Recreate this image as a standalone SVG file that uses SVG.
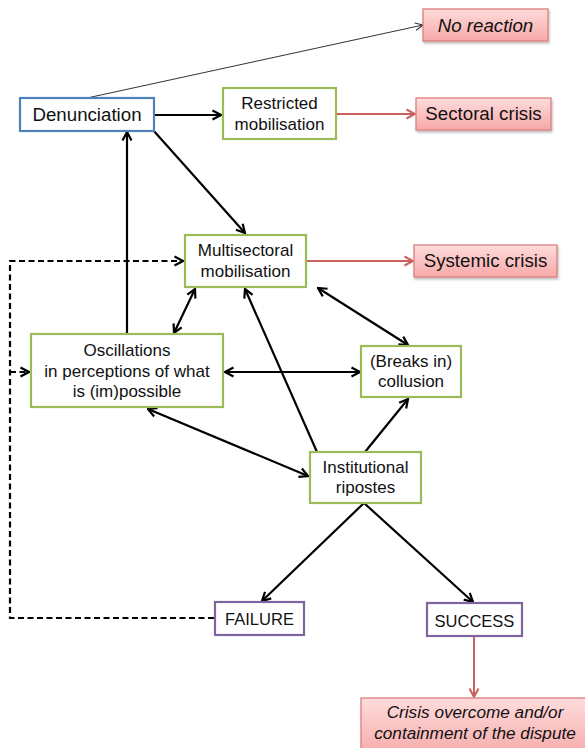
<svg xmlns="http://www.w3.org/2000/svg" width="585" height="748" viewBox="0 0 585 748">
  <style>
    .lbl { font-family: "Liberation Sans", Arial, sans-serif; fill: #111; text-anchor: middle; }
    .big { font-size: 18.7px; }
    .med { font-size: 17px; }
    .it { font-style: italic; }
    .box { fill: #ffffff; stroke-width: 2.2; }
    .green { stroke: #9bbb59; }
    .blue { stroke: #4f81bd; }
    .purple { stroke: #8064a2; }
    .pink { fill: url(#pinkGrad); stroke: #d9807e; stroke-width: 1.3; filter: url(#shadow); }
    .arr { fill: none; stroke: #000; stroke-width: 2.2; }
    .red { fill: none; stroke: #c9605c; stroke-width: 2; }
    .thin { fill: none; stroke: #333; stroke-width: 1; }
    .dash { fill: none; stroke: #000; stroke-width: 2.2; stroke-dasharray: 6 3.5; }
  </style>
  <defs>
    <linearGradient id="pinkGrad" x1="0" y1="0" x2="0" y2="1">
      <stop offset="0" stop-color="#ffdcdc"/>
      <stop offset="1" stop-color="#f6a8a8"/>
    </linearGradient>
    <filter id="shadow" x="-10%" y="-20%" width="130%" height="160%">
      <feDropShadow dx="1" dy="2" stdDeviation="1.2" flood-color="#000" flood-opacity="0.25"/>
    </filter>
    <marker id="ah" viewBox="0 0 12 12" refX="10.5" refY="6" markerWidth="12" markerHeight="12" markerUnits="userSpaceOnUse" orient="auto-start-reverse">
      <path d="M2,1.5 L10.5,6 L2,10.5" fill="none" stroke="#000" stroke-width="2.2"/>
    </marker>
    <marker id="ahr" viewBox="0 0 12 12" refX="10.5" refY="6" markerWidth="12" markerHeight="12" markerUnits="userSpaceOnUse" orient="auto">
      <path d="M2,1.5 L10.5,6 L2,10.5" fill="none" stroke="#c9605c" stroke-width="2"/>
    </marker>
    <marker id="aht" viewBox="0 0 12 12" refX="10.5" refY="6" markerWidth="11" markerHeight="11" markerUnits="userSpaceOnUse" orient="auto">
      <path d="M2,2 L10.5,6 L2,10" fill="none" stroke="#333" stroke-width="1.2"/>
    </marker>
  </defs>

  <g id="connectors">
    <line class="thin" x1="87" y1="98" x2="423" y2="25" marker-end="url(#aht)"/>
    <line class="arr" x1="154" y1="115" x2="221" y2="115" marker-end="url(#ah)"/>
    <line class="red" x1="337" y1="114" x2="415" y2="114" marker-end="url(#ahr)"/>
    <line class="arr" x1="153" y1="130" x2="245" y2="233" marker-end="url(#ah)"/>
    <line class="arr" x1="127" y1="334" x2="127" y2="132" marker-end="url(#ah)"/>
    <line class="red" x1="306" y1="261" x2="413" y2="261" marker-end="url(#ahr)"/>
    <line class="arr" x1="195" y1="289" x2="174" y2="333" marker-start="url(#ah)" marker-end="url(#ah)"/>
    <line class="arr" x1="318" y1="288" x2="408" y2="345" marker-start="url(#ah)" marker-end="url(#ah)"/>
    <line class="arr" x1="225" y1="372" x2="360" y2="372" marker-start="url(#ah)" marker-end="url(#ah)"/>
    <line class="arr" x1="317" y1="452" x2="245" y2="289" marker-end="url(#ah)"/>
    <line class="arr" x1="148" y1="409" x2="308" y2="476" marker-start="url(#ah)" marker-end="url(#ah)"/>
    <line class="arr" x1="365" y1="452" x2="408" y2="399" marker-end="url(#ah)"/>
    <line class="arr" x1="364" y1="503" x2="262" y2="601" marker-end="url(#ah)"/>
    <line class="arr" x1="364" y1="503" x2="473" y2="602" marker-end="url(#ah)"/>
    <line class="red" x1="474" y1="637" x2="474" y2="697" marker-end="url(#ahr)"/>
    <polyline class="dash" points="214,618 10,618 10,261 183,261" marker-end="url(#ah)"/>
    <line class="dash" x1="10" y1="372" x2="29" y2="372" marker-end="url(#ah)"/>
  </g>

  <g id="no-reaction">
    <rect class="pink" x="423" y="9" width="125" height="32"/>
    <text class="lbl big it" x="485.5" y="32">No reaction</text>
  </g>
  <g id="denunciation">
    <rect class="box blue" x="20" y="98" width="134" height="33"/>
    <text class="lbl big" x="87" y="121">Denunciation</text>
  </g>
  <g id="restricted-mobilisation">
    <rect class="box green" x="223" y="88" width="113" height="51"/>
    <text class="lbl med" x="279.5" y="109">Restricted</text>
    <text class="lbl med" x="279.5" y="130">mobilisation</text>
  </g>
  <g id="sectoral-crisis">
    <rect class="pink" x="416" y="98" width="135" height="32"/>
    <text class="lbl big" x="483.5" y="120">Sectoral crisis</text>
  </g>
  <g id="multisectoral-mobilisation">
    <rect class="box green" x="185" y="235" width="121" height="52"/>
    <text class="lbl med" x="245.5" y="256">Multisectoral</text>
    <text class="lbl med" x="245.5" y="277">mobilisation</text>
  </g>
  <g id="systemic-crisis">
    <rect class="pink" x="414" y="245" width="143" height="32"/>
    <text class="lbl big" x="485.5" y="267">Systemic crisis</text>
  </g>
  <g id="oscillations">
    <rect class="box green" x="31" y="334" width="192" height="73"/>
    <text class="lbl med" x="127" y="356">Oscillations</text>
    <text class="lbl med" x="127" y="377">in perceptions of what</text>
    <text class="lbl med" x="127" y="397">is (im)possible</text>
  </g>
  <g id="collusion">
    <rect class="box green" x="361" y="346" width="100" height="51"/>
    <text class="lbl med" x="411" y="367">(Breaks in)</text>
    <text class="lbl med" x="411" y="387">collusion</text>
  </g>
  <g id="institutional-ripostes">
    <rect class="box green" x="310" y="452" width="111" height="51"/>
    <text class="lbl med" x="365.5" y="473">Institutional</text>
    <text class="lbl med" x="365.5" y="493">ripostes</text>
  </g>
  <g id="failure">
    <rect class="box purple" x="215" y="602" width="89" height="33"/>
    <text class="lbl" x="259.5" y="625" style="font-size:16.5px">FAILURE</text>
  </g>
  <g id="success">
    <rect class="box purple" x="427" y="603" width="95" height="33"/>
    <text class="lbl" x="474.5" y="627" style="font-size:16.5px">SUCCESS</text>
  </g>
  <g id="crisis-overcome">
    <rect class="pink" x="361" y="698" width="230" height="60"/>
    <text class="lbl it" x="475" y="718" style="font-size:17.2px">Crisis overcome and/or</text>
    <text class="lbl it" x="475" y="739" style="font-size:17.2px">containment of the dispute</text>
  </g>
</svg>
